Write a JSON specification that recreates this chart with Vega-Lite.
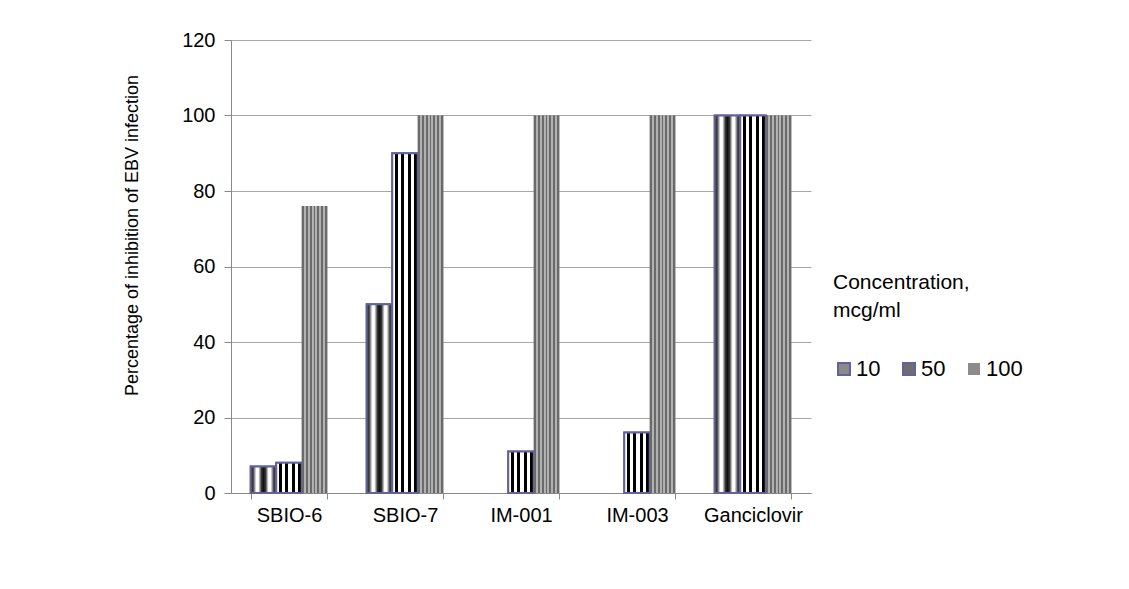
{
  "$schema": "https://vega.github.io/schema/vega-lite/v6.json",
  "width": 580,
  "height": 453,
  "autosize": "none",
  "padding": {"left": 231, "top": 40, "right": 318, "bottom": 96},
  "background": "white",
  "config": {"font": "Liberation Sans", "view": {"stroke": null}},
  "data": {
    "values": [
      {"compound": "SBIO-6", "conc": "10", "value": 7},
      {"compound": "SBIO-6", "conc": "50", "value": 8},
      {"compound": "SBIO-6", "conc": "100", "value": 76},
      {"compound": "SBIO-7", "conc": "10", "value": 50},
      {"compound": "SBIO-7", "conc": "50", "value": 90},
      {"compound": "SBIO-7", "conc": "100", "value": 100},
      {"compound": "IM-001", "conc": "50", "value": 11},
      {"compound": "IM-001", "conc": "100", "value": 100},
      {"compound": "IM-003", "conc": "50", "value": 16},
      {"compound": "IM-003", "conc": "100", "value": 100},
      {"compound": "Ganciclovir", "conc": "10", "value": 100},
      {"compound": "Ganciclovir", "conc": "50", "value": 100},
      {"compound": "Ganciclovir", "conc": "100", "value": 100}
    ]
  },
  "encoding": {
    "x": {
      "field": "compound",
      "type": "nominal",
      "sort": ["SBIO-6", "SBIO-7", "IM-001", "IM-003", "Ganciclovir"],
      "scale": {"paddingInner": 0.34, "paddingOuter": 0.17},
      "axis": {
        "title": null,
        "labelAngle": 0,
        "labelFontSize": 20,
        "labelColor": "#000",
        "tickBand": "extent",
        "domainColor": "#888",
        "tickColor": "#888",
        "tickSize": 6,
        "labelPadding": 6
      }
    },
    "xOffset": {
      "field": "conc",
      "type": "nominal",
      "scale": {"domain": ["10", "50", "100"], "paddingInner": 0, "paddingOuter": 0}
    },
    "y": {
      "field": "value",
      "type": "quantitative",
      "scale": {"domain": [0, 120]},
      "axis": {
        "values": [0, 20, 40, 60, 80, 100, 120],
        "title": "Percentage of inhibition of EBV infection",
        "titleFontSize": 18,
        "titleFontWeight": "normal",
        "titleColor": "#000",
        "titlePadding": 40,
        "titleY": 195,
        "labelFontSize": 20,
        "labelColor": "#000",
        "labelPadding": 9,
        "tickSize": 7,
        "tickColor": "#888",
        "domainColor": "#888",
        "grid": true,
        "gridColor": "#a6a6a6",
        "gridWidth": 1
      }
    }
  },
  "layer": [
    {
      "mark": {"type": "bar", "strokeWidth": 2},
      "encoding": {
        "fill": {
          "field": "conc",
          "type": "nominal",
          "scale": {"domain": ["10", "50", "100"], "range": ["#8a8a8a", "#6e6e6e", "#8c8c8c"]},
          "legend": {
            "orient": "none",
            "legendX": 602,
            "legendY": 232,
            "direction": "horizontal",
            "title": ["Concentration,", "mcg/ml"],
            "titleFontSize": 21,
            "titleFontWeight": "normal",
            "titleColor": "#000",
            "titleLineHeight": 28,
            "titlePadding": 37,
            "labelFontSize": 22,
            "labelColor": "#000",
            "labelOffset": 1,
            "symbolType": "square",
            "symbolSize": 144,
            "symbolStrokeWidth": 2,
            "symbolOpacity": 1,
            "columnPadding": 17,
            "padding": 0
          }
        },
        "stroke": {
          "field": "conc",
          "type": "nominal",
          "scale": {"domain": ["10", "50", "100"], "range": ["#62629c", "#62629c", "transparent"]},
          "legend": null
        }
      }
    },
    {
      "transform": [{"filter": "datum.conc === '10'"}],
      "mark": {
        "type": "bar",
        "strokeWidth": 2,
        "stroke": "#62629c",
        "fill": {"gradient": "linear", "x1": 0, "y1": 0, "x2": 1, "y2": 0, "stops": [
          {"offset": 0, "color": "#222222"}, {"offset": 0.1, "color": "#444444"}, {"offset": 0.22, "color": "#ffffff"}, {"offset": 0.3, "color": "#ffffff"},
          {"offset": 0.42, "color": "#333333"}, {"offset": 0.5, "color": "#111111"}, {"offset": 0.58, "color": "#333333"}, {"offset": 0.7, "color": "#ffffff"},
          {"offset": 0.78, "color": "#ffffff"}, {"offset": 0.9, "color": "#444444"}, {"offset": 1, "color": "#222222"}]}
      }
    },
    {
      "transform": [{"filter": "datum.conc === '50'"}],
      "mark": {
        "type": "bar",
        "strokeWidth": 2,
        "stroke": "#62629c",
        "fill": {"gradient": "linear", "x1": 0, "y1": 0, "x2": 1, "y2": 0, "stops": [
          {"offset": 0, "color": "#ffffff"}, {"offset": 0.1, "color": "#ffffff"}, {"offset": 0.1, "color": "#000000"}, {"offset": 0.225, "color": "#000000"},
          {"offset": 0.225, "color": "#ffffff"}, {"offset": 0.35, "color": "#ffffff"}, {"offset": 0.35, "color": "#000000"}, {"offset": 0.475, "color": "#000000"},
          {"offset": 0.475, "color": "#ffffff"}, {"offset": 0.6, "color": "#ffffff"}, {"offset": 0.6, "color": "#000000"}, {"offset": 0.725, "color": "#000000"},
          {"offset": 0.725, "color": "#ffffff"}, {"offset": 0.85, "color": "#ffffff"}, {"offset": 0.85, "color": "#000000"}, {"offset": 0.975, "color": "#000000"},
          {"offset": 0.975, "color": "#ffffff"}, {"offset": 1, "color": "#ffffff"}]}
      }
    },
    {
      "transform": [{"filter": "datum.conc === '100'"}],
      "mark": {
        "type": "bar",
        "fill": {"gradient": "linear", "x1": 0, "y1": 0, "x2": 1, "y2": 0, "stops": [
          {"offset": 0, "color": "#6a6a6a"}, {"offset": 0.077, "color": "#6a6a6a"}, {"offset": 0.077, "color": "#b2b2b2"}, {"offset": 0.154, "color": "#b2b2b2"},
          {"offset": 0.154, "color": "#6a6a6a"}, {"offset": 0.231, "color": "#6a6a6a"}, {"offset": 0.231, "color": "#b2b2b2"}, {"offset": 0.308, "color": "#b2b2b2"},
          {"offset": 0.308, "color": "#6a6a6a"}, {"offset": 0.385, "color": "#6a6a6a"}, {"offset": 0.385, "color": "#b2b2b2"}, {"offset": 0.462, "color": "#b2b2b2"},
          {"offset": 0.462, "color": "#6a6a6a"}, {"offset": 0.538, "color": "#6a6a6a"}, {"offset": 0.538, "color": "#b2b2b2"}, {"offset": 0.615, "color": "#b2b2b2"},
          {"offset": 0.615, "color": "#6a6a6a"}, {"offset": 0.692, "color": "#6a6a6a"}, {"offset": 0.692, "color": "#b2b2b2"}, {"offset": 0.769, "color": "#b2b2b2"},
          {"offset": 0.769, "color": "#6a6a6a"}, {"offset": 0.846, "color": "#6a6a6a"}, {"offset": 0.846, "color": "#b2b2b2"}, {"offset": 0.923, "color": "#b2b2b2"},
          {"offset": 0.923, "color": "#6a6a6a"}, {"offset": 1, "color": "#6a6a6a"}]}
      }
    }
  ]
}
